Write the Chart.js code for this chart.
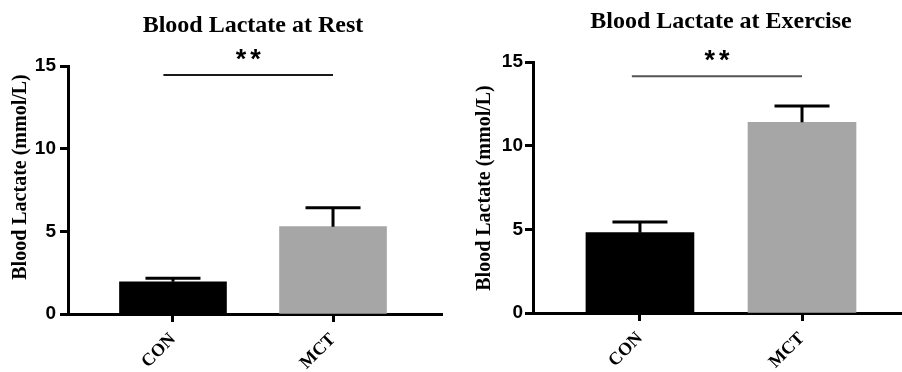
<!DOCTYPE html>
<html>
<head>
<meta charset="utf-8">
<script src="https://cdn.jsdelivr.net/npm/chart.js@4"></script>
<style>
  html, body { margin: 0; padding: 0; background: #fff; }
  .wrap { display: flex; width: 902px; height: 372px; }
  canvas { display: block; }
</style>
</head>
<body>
<div class="wrap">
  <canvas id="rest" width="451" height="372"></canvas>
  <canvas id="exercise" width="451" height="372"></canvas>
</div>
<script>
// ---------- data ----------
const GROUPS = ["CON", "MCT"];
const Y_TICKS = [0, 5, 10, 15];

const REST_MEAN = [1.95, 5.28];
const REST_SEM = [0.21, 1.15];
const REST_SIG = [-0.06, 1, 14.45]; // from, to, level

const EXERCISE_MEAN = [4.8, 11.4];
const EXERCISE_SEM = [0.64, 0.97];
const EXERCISE_SIG = [-0.05, 1, 14.15];

const SIG_LABEL = "**";
const BAR_COLORS = ["#000000", "#a6a6a6"];

// ---------- error bars, bracket, titles ----------
const annotate = {
  id: "annotate",
  afterDatasetsDraw(chart, args, o) {
    const ctx = chart.ctx;
    const xs = chart.scales.x;
    const ys = chart.scales.y;
    const meta = chart.getDatasetMeta(0);

    ctx.save();
    ctx.strokeStyle = "#000";
    ctx.lineWidth = 3;
    meta.data.forEach((bar, i) => {
      const top = ys.getPixelForValue(o.mean[i] + o.sem[i]);
      ctx.beginPath();
      ctx.moveTo(bar.x, bar.y);
      ctx.lineTo(bar.x, top);
      ctx.moveTo(bar.x - o.capWidth / 2, top);
      ctx.lineTo(bar.x + o.capWidth / 2, top);
      ctx.stroke();
    });

    // significance bracket
    const x1 = xs.getPixelForValue(o.sig[0]);
    const x2 = xs.getPixelForValue(o.sig[1]);
    const yl = ys.getPixelForValue(o.sig[2]);
    ctx.strokeStyle = o.sigColor;
    ctx.lineWidth = 2;
    ctx.beginPath();
    ctx.moveTo(x1, yl);
    ctx.lineTo(x2, yl);
    ctx.stroke();
    ctx.fillStyle = "#000";
    ctx.textAlign = "center";
    ctx.textBaseline = "middle";
    ctx.font = "bold 27px 'Liberation Sans'";
    ctx.letterSpacing = "4px";
    ctx.fillText(SIG_LABEL, (x1 + x2) / 2 + 2, yl - 15);
    ctx.letterSpacing = "0px";

    // title
    ctx.font = "bold 24px 'Liberation Serif'";
    ctx.fillText(o.title, o.titleX, o.titleY);

    // y axis title
    ctx.font = "bold 20px 'Liberation Serif'";
    ctx.translate(o.yTitleX, o.yTitleY);
    ctx.rotate(-Math.PI / 2);
    ctx.fillText(o.yTitle, 0, 0);
    ctx.restore();
  },
};

function buildChart(id, c) {
  return new Chart(document.getElementById(id), {
    type: "bar",
    data: {
      datasets: [{
        data: c.mean.map((v, i) => ({ x: i, y: v })),
        backgroundColor: BAR_COLORS,
        borderWidth: 0,
        barThickness: c.barWidth,
      }],
    },
    options: {
      responsive: false,
      animation: false,
      layout: { padding: c.padding },
      plugins: {
        legend: { display: false },
        tooltip: { enabled: false },
        annotate: {
          mean: c.mean, sem: c.sem, sig: c.sig, sigColor: c.sigColor,
          capWidth: 55,
          title: c.title, titleX: c.titleX, titleY: c.titleY,
          yTitle: "Blood Lactate (mmol/L)", yTitleX: c.yTitleX, yTitleY: c.yTitleY,
        },
      },
      scales: {
        x: {
          type: "linear",
          min: c.xMin,
          max: c.xMax,
          offset: false,
          afterBuildTicks: (axis) => { axis.ticks = GROUPS.map((g, i) => ({ value: i })); },
          afterFit: (axis) => { axis.height = c.xAxisHeight; },
          grid: { offset: false, drawOnChartArea: false, tickLength: 8, tickWidth: 3, tickColor: "#000" },
          border: { display: true, width: 3, color: "#000" },
          ticks: {
            autoSkip: false,
            minRotation: 45,
            maxRotation: 45,
            padding: 7,
            color: "#000",
            font: { family: "Liberation Serif", weight: "bold", size: 18 },
            callback: (v) => GROUPS[v],
          },
        },
        y: {
          min: 0,
          max: 15,
          afterBuildTicks: (axis) => { axis.ticks = Y_TICKS.map((v) => ({ value: v })); },
          afterFit: (axis) => { axis.width = c.yAxisWidth; },
          grid: { drawOnChartArea: false, tickLength: 8, tickWidth: 3, tickColor: "#000" },
          border: { display: true, width: 3, color: "#000" },
          ticks: {
            padding: c.yTickPad,
            color: "#000",
            font: { family: "Liberation Sans", weight: "bold", size: 19 },
          },
        },
      },
    },
    plugins: [annotate],
  });
}

buildChart("rest", {
  mean: REST_MEAN, sem: REST_SEM, sig: REST_SIG, sigColor: "#1a1a1a",
  title: "Blood Lactate at Rest", titleX: 253, titleY: 26,
  yTitleX: 21, yTitleY: 177,
  padding: { left: 0, right: 9, top: 66, bottom: 0 },
  yAxisWidth: 68, xAxisHeight: 58, yTickPad: 4,
  xMin: -0.656, xMax: 1.681, barWidth: 107,
});

buildChart("exercise", {
  mean: EXERCISE_MEAN, sem: EXERCISE_SEM, sig: EXERCISE_SIG, sigColor: "#555555",
  title: "Blood Lactate at Exercise", titleX: 270, titleY: 22,
  yTitleX: 34, yTitleY: 188,
  padding: { left: 0, right: 0, top: 62, bottom: 0 },
  yAxisWidth: 82, xAxisHeight: 59, yTickPad: 2,
  xMin: -0.66, xMax: 1.617, barWidth: 108,
});
</script>
</body>
</html>
